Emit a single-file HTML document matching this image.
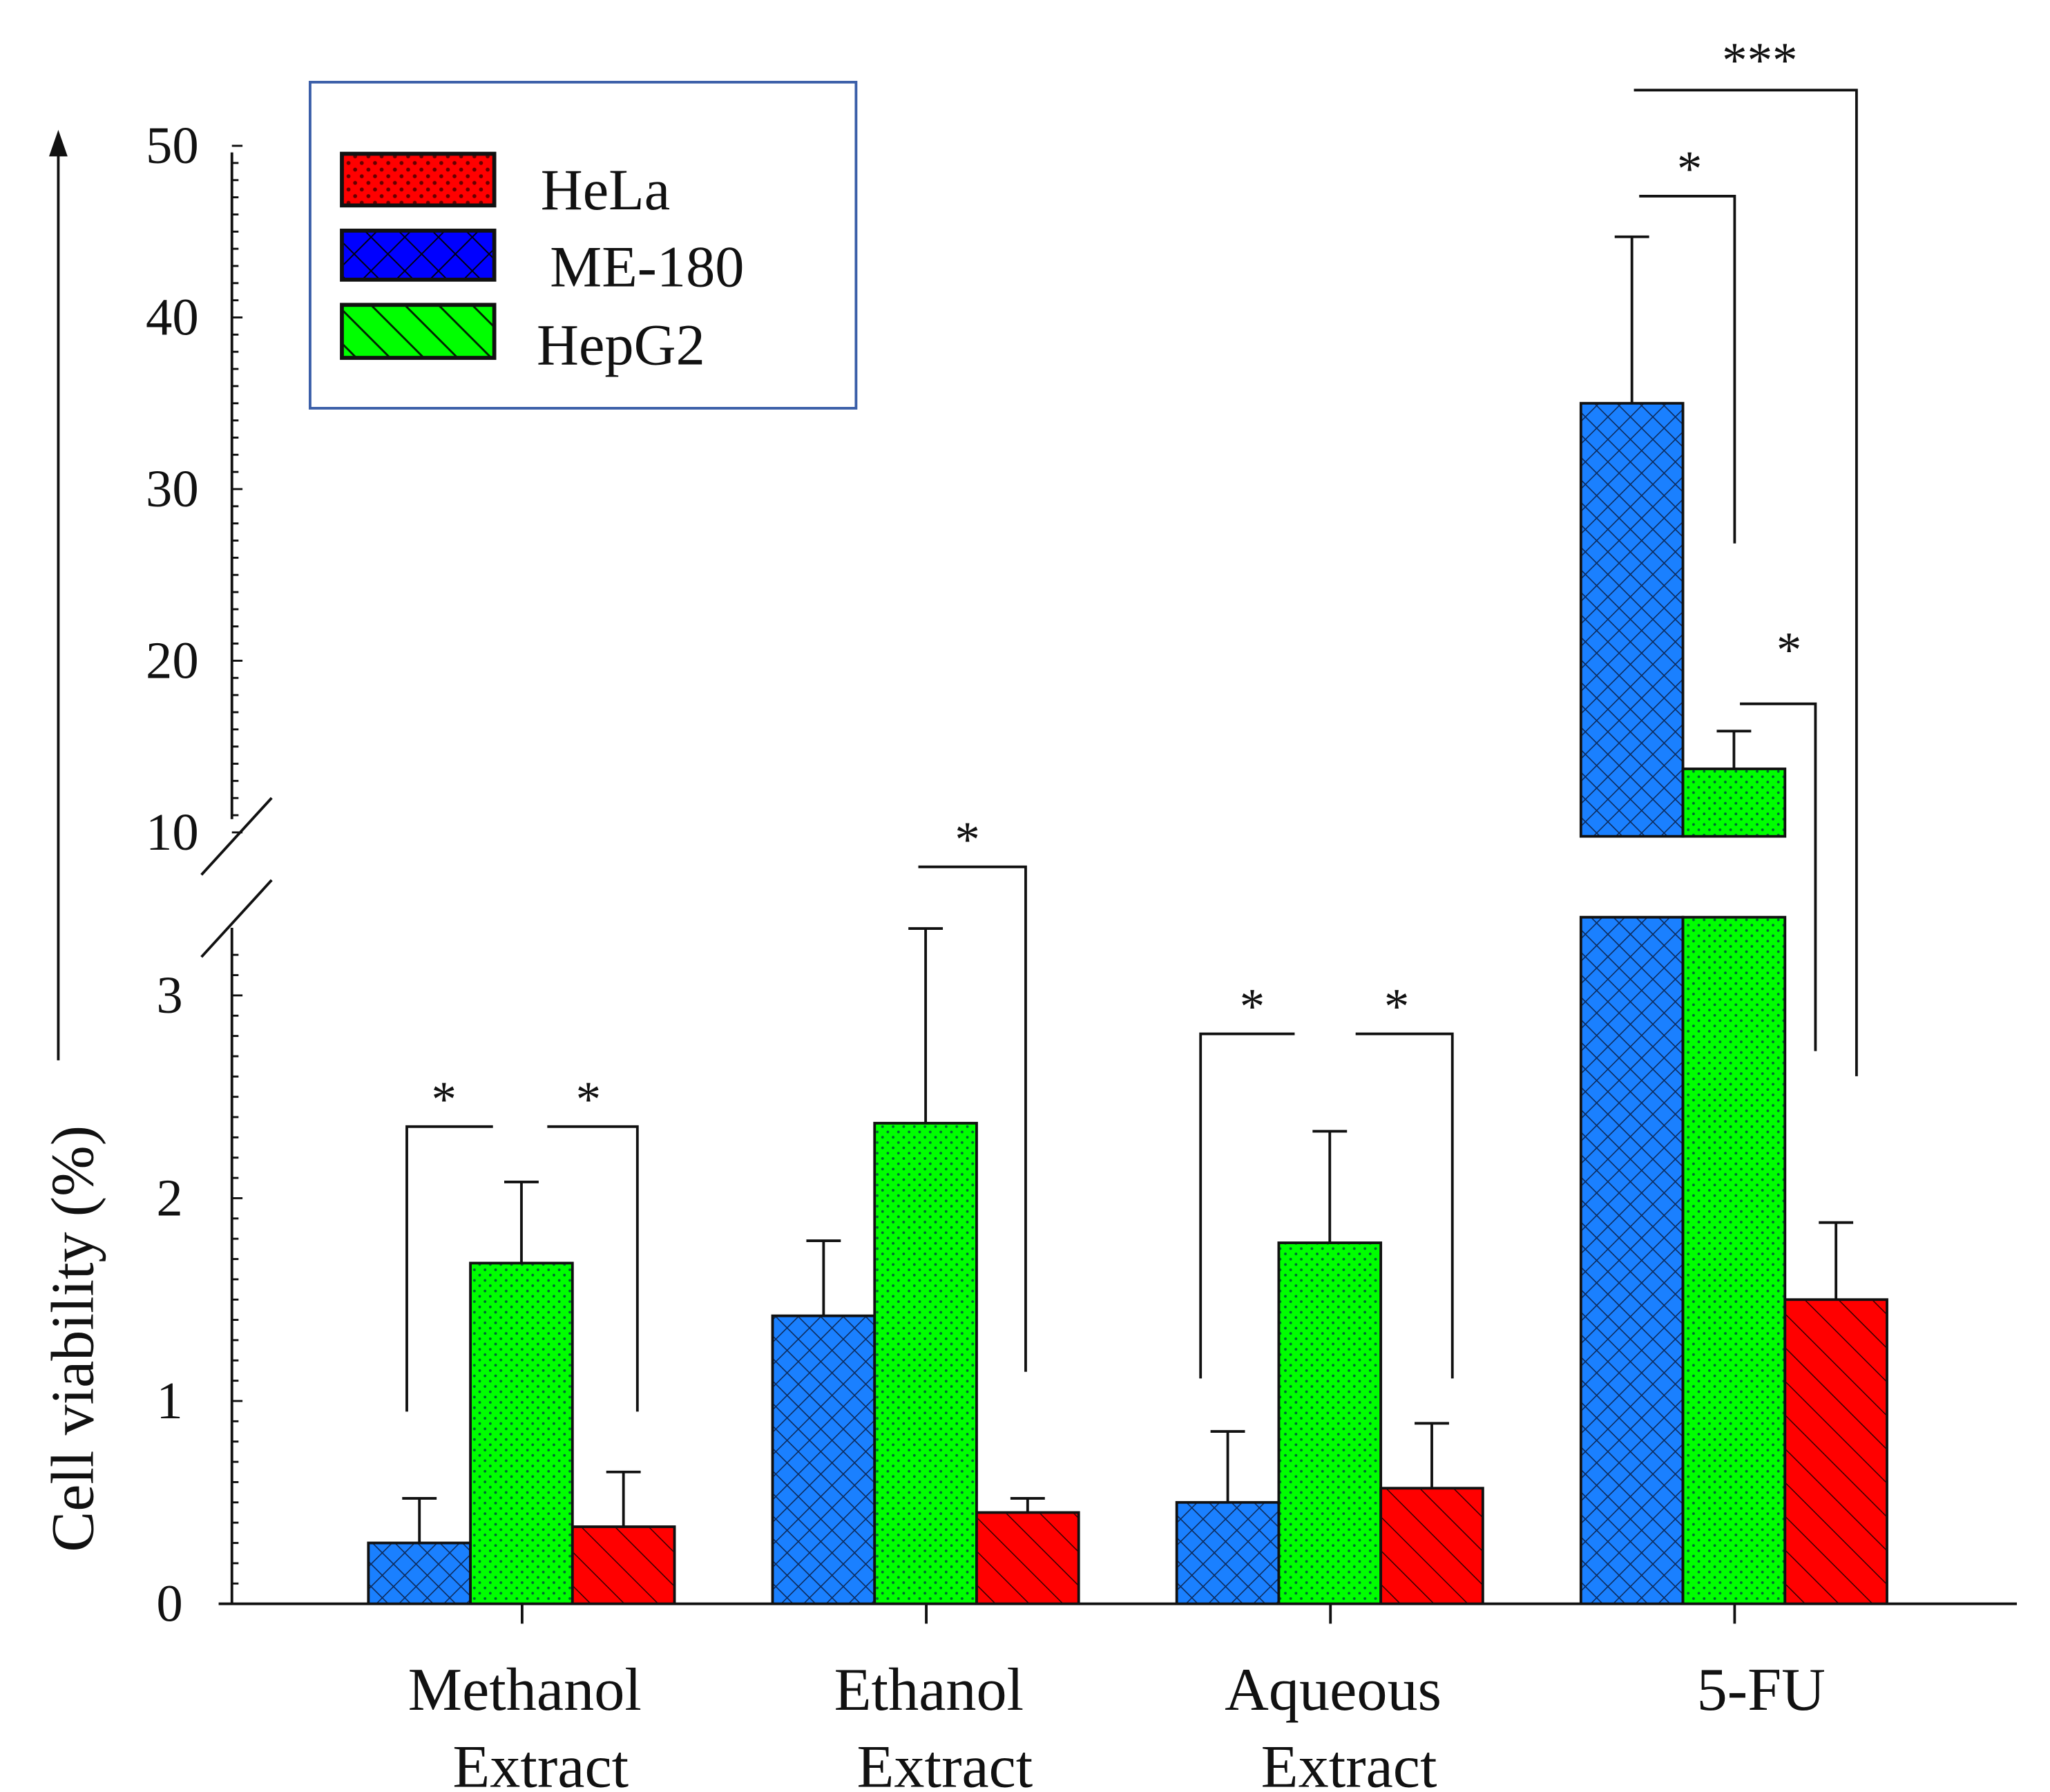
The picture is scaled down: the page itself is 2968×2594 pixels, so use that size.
<!DOCTYPE html>
<html><head><meta charset="utf-8"><style>
html,body{margin:0;padding:0;background:#fff}
svg{display:block}
text{font-family:"Liberation Serif",serif;fill:#111}
</style></head><body>
<svg id="chart" width="2968" height="2594" viewBox="0 0 1547 1352" preserveAspectRatio="none" xmlns="http://www.w3.org/2000/svg">
<defs>
<pattern id="pBlue" width="12" height="12" patternUnits="userSpaceOnUse" patternTransform="rotate(45)">
<rect width="12" height="12" fill="#1a80ff"/><path d="M0 0H12M0 0V12" stroke="#0d2a5a" stroke-width="1.6"/></pattern>
<pattern id="pGreen" width="8" height="8" patternUnits="userSpaceOnUse">
<rect width="8" height="8" fill="#00ff00"/><circle cx="2" cy="2" r="1" fill="#063"/><circle cx="6" cy="6" r="1" fill="#063"/></pattern>
<pattern id="pRed" width="18" height="18" patternUnits="userSpaceOnUse" patternTransform="rotate(45)">
<rect width="18" height="18" fill="#ff0000"/><path d="M0 0H18" stroke="#300" stroke-width="1.5"/></pattern>
<pattern id="lRed" width="10" height="10" patternUnits="userSpaceOnUse">
<rect width="10" height="10" fill="#ff0000"/><circle cx="3" cy="3" r="1.5" fill="#600"/><circle cx="8" cy="8" r="1.5" fill="#600"/></pattern>
<pattern id="lBlue" width="18" height="18" patternUnits="userSpaceOnUse" patternTransform="rotate(45)">
<rect width="18" height="18" fill="#0000ff"/><path d="M0 0H18M0 0V18" stroke="#001" stroke-width="2"/></pattern>
<pattern id="lGreen" width="18" height="18" patternUnits="userSpaceOnUse" patternTransform="rotate(45)">
<rect width="18" height="18" fill="#00ff00"/><path d="M0 0H18" stroke="#020" stroke-width="3"/></pattern>
</defs>
<g id="marks"></g>
</svg>
<script>
const categories = ["Methanol|Extract","Ethanol|Extract","Aqueous|Extract","5-FU"];
const me180 = [0.3, 1.42, 0.5, 35];
const me180Err = [0.52, 1.79, 0.85, 44.7];
const hepg2 = [1.68, 2.37, 1.78, 13.7];
const hepg2Err = [2.08, 3.33, 2.33, 15.9];
const hela = [0.38, 0.45, 0.57, 1.5];
const helaErr = [0.65, 0.52, 0.89, 1.88];
const lowTicks = [0,1,2,3];
const highTicks = [10,20,30,40,50];

const NS="http://www.w3.org/2000/svg";
const g=document.getElementById('marks');
const BASE=1210, LOWTOP=692, HIGHBOT=631;
function yLow(v){return 1210-153*v;}
function yHigh(v){return 628-(v-10)*12.95;}
function y(v){return v>3.38? yHigh(v): yLow(v);}
function xC(i){return 394+305*i;}
const BW=77;
function mk(tag,attrs,parent){const e=document.createElementNS(NS,tag);for(const k in attrs)e.setAttribute(k,attrs[k]);(parent||g).appendChild(e);return e;}
function line(x1,y1,x2,y2,w,name){const e=mk('line',{x1,y1,x2,y2,stroke:'#111','stroke-width':w||2});

return e;}
function txt(x,yy,s,size,anchor,name){const e=mk('text',{x,y:yy,'font-size':size,'text-anchor':anchor||'middle'});e.textContent=s;

return e;}

// axes
line(175,115,175,618,2,'y-axis-upper');
line(175,700,175,1210,2,'y-axis-lower');
line(165,1210,1522,1210,2,'x-axis');
line(152,660,205,602,2,'axis-break');
line(152,722,205,664,2,'axis-break');
for(let v=10;v<=50;v+=1){const yy=yHigh(v);line(175,yy,v%10===0?183:180,yy,1.5,'y-minor-tick');}
for(let v=0;v<=3.3;v+=0.1){const yy=yLow(v);const major=Math.abs(v-Math.round(v))<0.01;line(175,yy,major?183:180,yy,1.5,'y-minor-tick');}
highTicks.forEach(t=>txt(150,yHigh(t)+13,String(t),40,'end','y-tick-label'));
lowTicks.forEach(t=>txt(138,yLow(t)+13,String(t),40,'end','y-tick-label'));
categories.forEach((c,i)=>{line(xC(i),1210,xC(i),1225,2,'x-tick');
 const parts=c.split('|');
 txt(xC(i)+(i===3?20:2),1290,parts[0],46,'middle','x-tick-label');
 if(parts[1])txt(xC(i)+14,1348,parts[1],46,'middle','x-tick-label');});

// y title + arrow
const yt=txt(0,0,'Cell viability  (%)',46,'middle','y-axis-title');
yt.setAttribute('transform','translate(70,1010) rotate(-90)');
line(44,800,44,112,2,'y-axis-arrow');
const ah=mk('path',{d:'M44 98 L37 118 L51 118 Z',fill:'#111'});



function bar(x,v,fill,name){
 if(v>3.38){
  const r1=mk('rect',{x,y:LOWTOP,width:BW,height:BASE-LOWTOP,fill,stroke:'#111','stroke-width':2});
  
  
  const r2=mk('rect',{x,y:yHigh(v),width:BW,height:HIGHBOT-yHigh(v),fill,stroke:'#111','stroke-width':2});
  
  
 } else {
  const r=mk('rect',{x,y:yLow(v),width:BW,height:BASE-yLow(v),fill,stroke:'#111','stroke-width':2});
  
  
 }
}
function err(x,v,e){const cx=x+BW/2;line(cx,y(v),cx,y(e),2,'error-bar');line(cx-13,y(e),cx+13,y(e),2,'error-cap');}
categories.forEach((c,i)=>{
 const x0=xC(i)-116;
 err(x0,me180[i],me180Err[i]);err(x0+BW,hepg2[i],hepg2Err[i]);err(x0+2*BW,hela[i],helaErr[i]);
 bar(x0,me180[i],'url(#pBlue)','bar-me180');
 bar(x0+BW,hepg2[i],'url(#pGreen)','bar-hepg2');
 bar(x0+2*BW,hela[i],'url(#pRed)','bar-hela');
});

// significance brackets
function br(pts,sx,sy,s){const p=mk('polyline',{points:pts,fill:'none',stroke:'#111','stroke-width':2});


txt(sx,sy,s,38,'middle','significance-star');}
br('307,1065 307,850 372,850',335,842,'*');
br('413,850 481,850 481,1065',444,842,'*');
br('693,654 774,654 774,1035',730,646,'*');
br('906,1040 906,780 977,780',945,772,'*');
br('1023,780 1096,780 1096,1040',1054,772,'*');
br('1237,148 1309,148 1309,410',1275,140,'*');
br('1313,531 1370,531 1370,793',1350,503,'*');
br('1233,68 1401,68 1401,812',1328,58,'***');
</script>
<svg style="position:absolute;left:0;top:0" width="2968" height="2594" viewBox="0 0 1547 1352" preserveAspectRatio="none">
<rect x="234" y="62" width="412" height="246" fill="#fff" stroke="#3a5ea8" stroke-width="2"/>
<rect x="258" y="116" width="115" height="39" fill="url(#lRed)" stroke="#111" stroke-width="3"/>
<rect x="258" y="174" width="115" height="37" fill="url(#lBlue)" stroke="#111" stroke-width="3"/>
<rect x="258" y="230" width="115" height="40" fill="url(#lGreen)" stroke="#111" stroke-width="3"/>
<text x="408" y="158" font-size="44">HeLa</text>
<text x="415" y="216" font-size="44">ME-180</text>
<text x="405" y="275" font-size="44">HepG2</text>
</svg>
</body></html>
